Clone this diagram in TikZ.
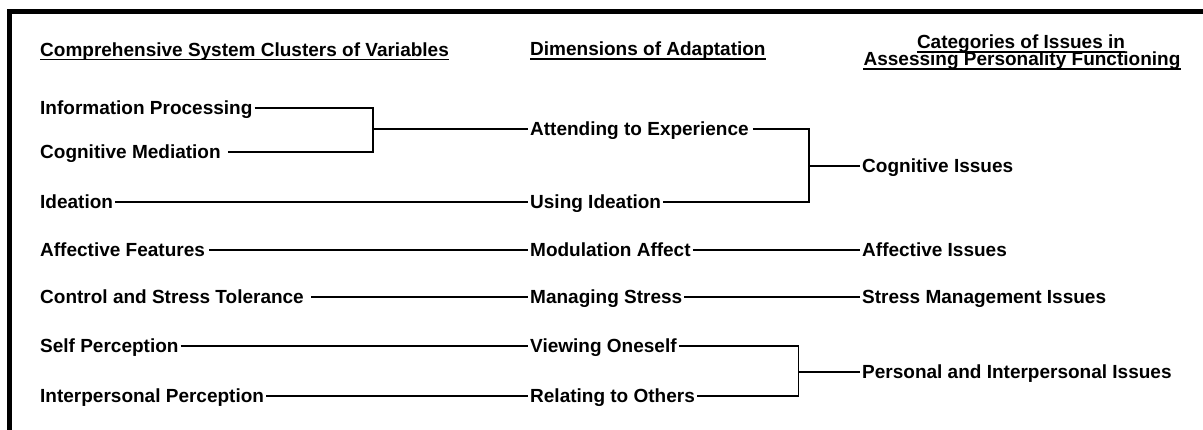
\documentclass[tikz,border=0pt]{standalone}
\usepackage{fontspec}
\setmainfont{Liberation Sans}
\usepackage{tikz}

\tikzset{
    lbl/.style={anchor=west, inner xsep=2pt, inner ysep=0pt, text height=13pt, text depth=0pt,
        font=\fontsize{19}{22}\selectfont\bfseries},
    head/.style={lbl, anchor=south west, inner xsep=0pt},
    link/.style={line width=1.8pt},
    uline/.style={line width=1.3pt}
}

\begin{document}
\begin{tikzpicture}[x=1pt,y=-1pt]
    \useasboundingbox (0,0) rectangle (1203,430);
    % Frame
    \draw[line width=5pt] (1203,11.5) -- (9.5,11.5) -- (9.5,430);

    % Headers
    \node[head] (hvar) at (40,56.5) {Comprehensive System Clusters of Variables};
    \node[head] (hdim) at (530,56) {Dimensions of Adaptation};
    \node[head, anchor=south] (hcat) at (1021,49) {Categories of Issues in};
    \node[head, anchor=south] (hass) at (1022,66) {Assessing Personality Functioning};
    \foreach \h in {hvar,hdim,hcat,hass}
        \draw[uline] ([yshift=-3pt]\h.south west) -- ([yshift=-3pt]\h.south east);

    % Clusters of variables
    \node[lbl] (info) at (38,108) {Information Processing};
    \node[lbl] (cmed) at (38,152) {Cognitive Mediation};
    \node[lbl] (idea) at (38,202) {Ideation};
    \node[lbl] (afeat) at (38,250) {Affective Features};
    \node[lbl] (ctrl) at (38,297) {Control and Stress Tolerance};
    \node[lbl] (selfp) at (38,346) {Self Perception};
    \node[lbl] (interp) at (38,396) {Interpersonal Perception};

    % Dimensions of adaptation
    \node[lbl] (attend) at (528,129) {Attending to Experience};
    \node[lbl] (using) at (528,202) {Using Ideation};
    \node[lbl] (modaff) at (528,250) {Modulation Affect};
    \node[lbl] (manstr) at (528,297) {Managing Stress};
    \node[lbl] (viewing) at (528,346) {Viewing Oneself};
    \node[lbl] (relating) at (528,396) {Relating to Others};

    % Categories of issues
    \node[lbl] (cogiss) at (860,166) {Cognitive Issues};
    \node[lbl] (affiss) at (860,250) {Affective Issues};
    \node[lbl] (striss) at (860,297) {Stress Management Issues};
    \node[lbl] (periss) at (860,372) {Personal and Interpersonal Issues};

    % Brackets
    \coordinate (j1) at (373,129);
    \coordinate (j2) at (809,166);
    \coordinate (j3) at (798.5,372);

    % Connectors
    \draw[link] (info.east) -| (j1);
    \draw[link, shorten <=5pt] (cmed.east) -| (j1);
    \draw[link] (j1) -- (attend.west);
    \draw[link] (idea.east) -- (using.west);
    \draw[link, shorten <=2pt] (afeat.east) -- (modaff.west);
    \draw[link, shorten <=5pt] (ctrl.east) -- (manstr.west);
    \draw[link] (selfp.east) -- (viewing.west);
    \draw[link] (interp.east) -- (relating.west);

    \draw[link, shorten <=2pt] (attend.east) -| (j2);
    \draw[link] (using.east) -| (j2);
    \draw[link] (j2) -- (cogiss.west);
    \draw[link] (modaff.east) -- (affiss.west);
    \draw[link] (manstr.east) -- (striss.west);
    \draw[link] (viewing.east) -| (j3);
    \draw[link] (relating.east) -| (j3);
    \draw[link] (j3) -- (periss.west);
\end{tikzpicture}
\end{document}
